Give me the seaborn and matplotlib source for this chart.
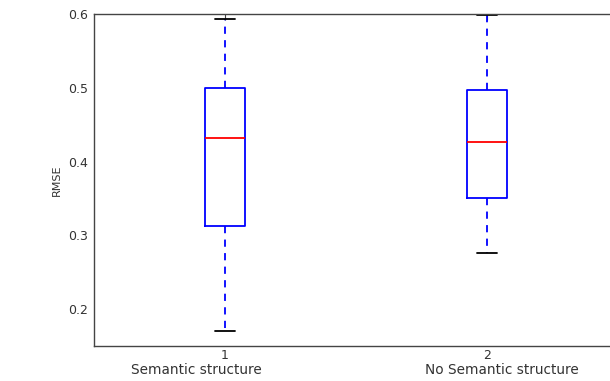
import matplotlib
matplotlib.use("Agg")
import matplotlib.pyplot as plt
import seaborn as sns
import pandas as pd

# Five-number summaries per condition: lower whisker, Q1, median, Q3, upper whisker
conditions = ["Semantic structure", "No Semantic structure"]
tick_labels = ["1", "2"]
semantic_rmse = [0.170, 0.313, 0.432, 0.500, 0.593]
no_semantic_rmse = [0.276, 0.351, 0.426, 0.497, 0.598]

df = pd.DataFrame({
    "condition": [conditions[0]] * len(semantic_rmse) + [conditions[1]] * len(no_semantic_rmse),
    "rmse": semantic_rmse + no_semantic_rmse,
})

sns.set_style("white")
plt.rcParams["font.family"] = ["DejaVu Sans"]
plt.rcParams["font.size"] = 8.5
text_color = "#333333"
spine_color = "#444444"

fig = plt.figure(figsize=(6.10, 3.81), dpi=100)
ax = fig.add_axes([94 / 610, 1 - 346 / 381, (618 - 94) / 610, (346 - 14) / 381])

sns.boxplot(
    data=df, x="condition", y="rmse", order=conditions, ax=ax,
    width=0.15, fill=False, color="blue", linewidth=1.3, whis=1.5,
    whiskerprops=dict(linestyle=(0, (4, 3.5))),
    medianprops=dict(color="red"),
    capprops=dict(color="black"),
)

ax.set_xlim(-0.5, 1.5)
ax.set_ylim(0.15, 0.6)
ax.set_yticks([0.2, 0.3, 0.4, 0.5, 0.6])
ax.set_yticklabels(["0.2", "0.3", "0.4", "0.5", "0.6"])
ax.set_xticks([0, 1])
ax.set_xticklabels(tick_labels)
ax.set_xlabel("")
ax.set_ylabel("RMSE", color=text_color, fontsize=8, labelpad=5)

ax.tick_params(axis="both", direction="in", length=4, width=0.8, color=spine_color,
               labelcolor=text_color, labelsize=9, top=True, right=True, pad=4)
ax.tick_params(axis="x", pad=2)
for s in ax.spines.values():
    s.set_color(spine_color)
    s.set_linewidth(1.0)

# Condition names under the numbered ticks
fig.text(196 / 610, 1 - 370 / 381, conditions[0], ha="center", va="center",
         color=text_color, fontsize=9.8)
fig.text(502 / 610, 1 - 370 / 381, conditions[1], ha="center", va="center",
         color=text_color, fontsize=9.8)

fig.savefig("out.png", dpi=100, facecolor="white")
